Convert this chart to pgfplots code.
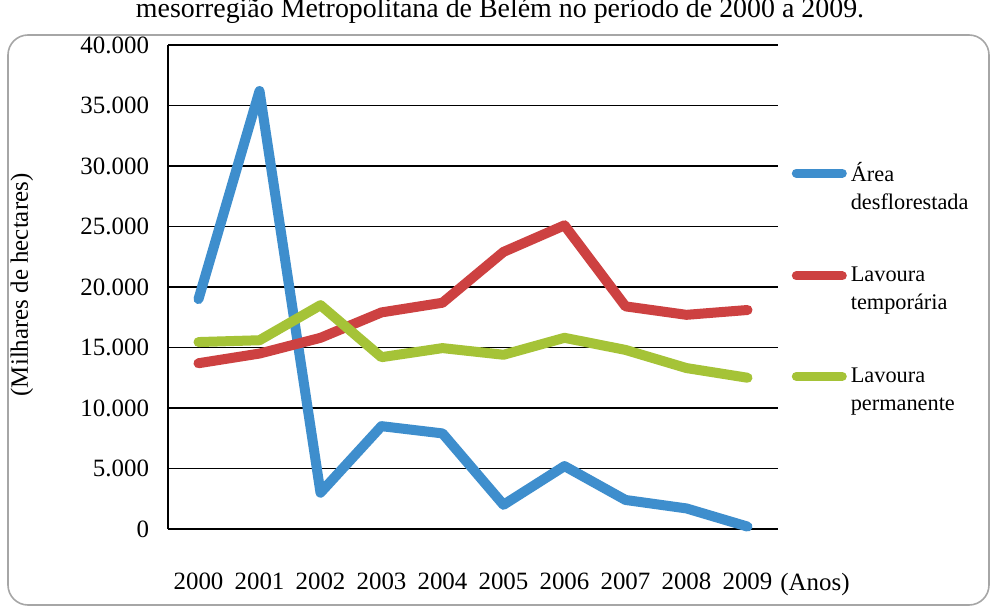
\documentclass[border=0pt]{standalone}
\usepackage{pgfplots}
\pgfplotsset{compat=1.18}
\usepackage{fontspec}
\setmainfont{Liberation Serif}
\definecolor{cblue}{RGB}{62,142,205}
\definecolor{cred}{RGB}{205,65,65}
\definecolor{cgreen}{RGB}{165,195,55}
\begin{document}
\begin{tikzpicture}
\path[use as bounding box, clip] (0,0) rectangle (496bp,304.5bp);
\fill[white] (0,0) rectangle (496bp,304.5bp);
\draw[gray!70, line width=0.8bp, rounded corners=10bp] (4bp,2bp) rectangle (494.5bp,287bp);
\node[font=\fontsize{14}{16}\selectfont, anchor=base] at (250bp,295.5bp) {mesorregião Metropolitana de Belém no período de 2000 a 2009.};
\begin{axis}[at={(84bp,40bp)}, anchor=south west, scale only axis,
  width=305bp, height=242bp,
  xmin=-0.5, xmax=9.5, ymin=0, ymax=40000,
  xtick={0,...,9}, xticklabels={2000,2001,2002,2003,2004,2005,2006,2007,2008,2009},
  ytick={0,5000,...,40000},
  yticklabels={0,5.000,10.000,15.000,20.000,25.000,30.000,35.000,40.000},
  scaled y ticks=false,
  axis x line*=bottom, axis y line*=left,
  axis line style={-, black, line width=0.6bp},
  ymajorgrids, grid style={black, line width=0.6bp},
  major tick length=0pt,
  tick label style={font=\fontsize{12.5}{15}\selectfont},
  yticklabel style={xshift=-6bp},
  xticklabel style={yshift=-18.5bp},
  clip=false,
  legend style={at={(1.022,0.767)}, anchor=north west, draw=none, fill=none,
    font=\fontsize{11.2}{14}\selectfont, cells={anchor=west, align=left, inner xsep=0.5bp},
    row sep=23.5bp, inner sep=0pt, /tikz/every odd column/.append style={column sep=0pt}},
  legend image code/.code={\path[draw=none, fill=none] (0bp,-7bp) rectangle (26bp,7bp); \draw[#1, line width=4.5bp, line cap=round] (1.5bp,7bp) -- (24.5bp,7bp);},
]
\addplot[cblue, line width=5bp, line join=round, line cap=round] coordinates {
(0,19000) (1,36200) (2,3000) (3,8500) (4,7900) (5,2000) (6,5200) (7,2400) (8,1700) (9,200)};
\addlegendentry{Área\\desflorestada}
\addplot[cred, line width=5bp, line join=round, line cap=round] coordinates {
(0,13700) (1,14500) (2,15800) (3,17900) (4,18700) (5,22900) (6,25100) (7,18400) (8,17700) (9,18100)};
\addlegendentry{Lavoura\\temporária}
\addplot[cgreen, line width=5bp, line join=round, line cap=round] coordinates {
(0,15450) (1,15600) (2,18500) (3,14200) (4,14950) (5,14400) (6,15800) (7,14800) (8,13300) (9,12500)};
\addlegendentry{Lavoura\\permanente}
\end{axis}
\node[font=\fontsize{12.5}{15}\selectfont, rotate=90] at (11bp,162bp) {(Milhares de hectares)};
\node[font=\fontsize{12.5}{15}\selectfont] at (407.5bp,12bp) {(Anos)};
\end{tikzpicture}
\end{document}
